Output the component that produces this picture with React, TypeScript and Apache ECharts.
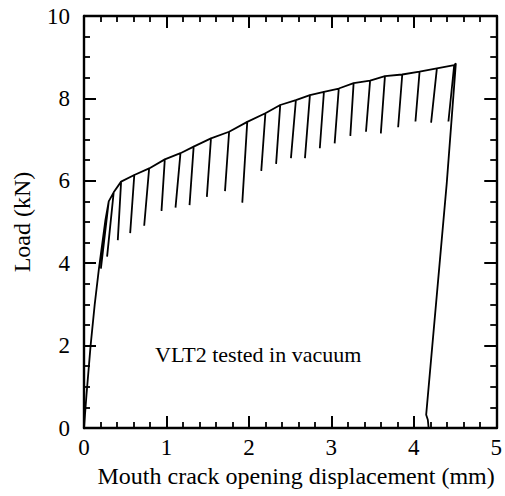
import React, { useEffect, useRef } from "react";
import * as echarts from "echarts";

// Initial loading branch (mm, kN)
const loadX = [0, 0.03, 0.08, 0.13, 0.18, 0.26];
const loadY = [0, 0.8, 2.0, 3.0, 3.85, 5.05];
// Envelope peaks where each unloading starts
const peakX = [0.30, 0.36, 0.45, 0.61, 0.79, 0.98, 1.17, 1.33, 1.54, 1.76, 1.98, 2.20, 2.38, 2.57, 2.74, 2.91, 3.09, 3.27, 3.47, 3.65, 3.86, 4.07, 4.28, 4.49];
const peakY = [5.50, 5.72, 5.98, 6.14, 6.30, 6.52, 6.67, 6.83, 7.03, 7.19, 7.43, 7.64, 7.84, 7.96, 8.08, 8.16, 8.24, 8.37, 8.43, 8.54, 8.58, 8.65, 8.73, 8.81];
// Lowest point reached by each partial unloading
const valleyX = [0.205, 0.28, 0.41, 0.56, 0.73, 0.94, 1.11, 1.28, 1.49, 1.71, 1.92, 2.15, 2.33, 2.51, 2.68, 2.86, 3.04, 3.23, 3.42, 3.60, 3.81, 4.02, 4.21, 4.42];
const valleyY = [3.87, 4.16, 4.56, 4.73, 4.91, 5.27, 5.35, 5.41, 5.61, 5.75, 5.47, 6.24, 6.41, 6.55, 6.55, 6.79, 6.91, 7.09, 7.19, 7.15, 7.30, 7.44, 7.41, 7.44];
// Final peak and full unloading
const unloadX = [4.51, 4.40, 4.15, 4.17, 4.18];
const unloadY = [8.85, 5.95, 0.32, 0.2, 0];

const xTickLabels = ["0", "1", "2", "3", "4", "5"];
const yTickLabels = ["0", "2", "4", "6", "8", "10"];

const FONT = "Liberation Serif";

export default function App() {
  const ref = useRef<HTMLDivElement>(null);
  useEffect(() => {
    document.body.style.margin = "0";
    if (!ref.current) return;
    const chart = echarts.init(ref.current, undefined, { renderer: "svg" });

    const data: number[][] = [];
    loadX.forEach((x, i) => data.push([x, loadY[i]]));
    peakX.forEach((x, i) => {
      data.push([x, peakY[i]]);
      data.push([valleyX[i], valleyY[i]]);
      data.push([x, peakY[i]]);
    });
    unloadX.forEach((x, i) => data.push([x, unloadY[i]]));

    const tickStyle = { color: "#000", width: 2 };
    const minorStyle = { color: "#000", width: 1.8 };
    const lineStyle = { color: "#000", width: 2.4 };

    const xBase = {
      type: "value" as const,
      min: 0,
      max: 5,
      interval: 1,
      splitLine: { show: false },
      axisLine: { show: true, onZero: false, lineStyle },
      axisTick: { show: true, inside: true, length: 12, lineStyle: tickStyle },
      minorTick: { show: true, splitNumber: 5, length: 6, lineStyle: minorStyle },
      minorSplitLine: { show: false },
    };
    const yBase = {
      type: "value" as const,
      min: 0,
      max: 10,
      interval: 2,
      splitLine: { show: false },
      axisLine: { show: true, onZero: false, lineStyle },
      axisTick: { show: true, inside: true, length: 12, lineStyle: tickStyle },
      minorTick: { show: true, splitNumber: 4, length: 6, lineStyle: minorStyle },
      minorSplitLine: { show: false },
    };

    chart.setOption({
      animation: false,
      backgroundColor: "#fff",
      grid: { left: 84, right: 7, top: 16, bottom: 68 },
      xAxis: [
        {
          ...xBase,
          position: "bottom",
          name: "Mouth crack opening displacement (mm)",
          nameLocation: "middle",
          nameGap: 36,
          nameTextStyle: { fontFamily: FONT, fontSize: 24, color: "#000", padding: [0, 0, 0, 12] },
          axisLabel: {
            show: true,
            margin: 8,
            fontFamily: FONT,
            fontSize: 23,
            color: "#000",
            formatter: (v: number) => xTickLabels[Math.round(v)] ?? "",
          },
        },
        { ...xBase, position: "top", axisLabel: { show: false } },
      ],
      yAxis: [
        {
          ...yBase,
          position: "left",
          name: "Load (kN)",
          nameLocation: "middle",
          nameGap: 50,
          nameTextStyle: { fontFamily: FONT, fontSize: 24, color: "#000" },
          axisLabel: {
            show: true,
            margin: 14,
            fontFamily: FONT,
            fontSize: 23,
            color: "#000",
            formatter: (v: number) => yTickLabels[Math.round(v / 2)] ?? "",
          },
        },
        { ...yBase, position: "right", axisLabel: { show: false } },
      ],
      graphic: [
        {
          type: "text",
          left: 155,
          top: 343,
          style: { text: "VLT2 tested in vacuum", font: `22px "${FONT}"`, fill: "#000" },
        },
      ],
      series: [
        {
          type: "line",
          xAxisIndex: 0,
          yAxisIndex: 0,
          data,
          showSymbol: false,
          symbol: "none",
          lineStyle: { color: "#000", width: 1.8 },
          silent: true,
        },
      ],
    });
    return () => chart.dispose();
  }, []);
  return <div ref={ref} style={{ width: 505, height: 496 }} />;
}
